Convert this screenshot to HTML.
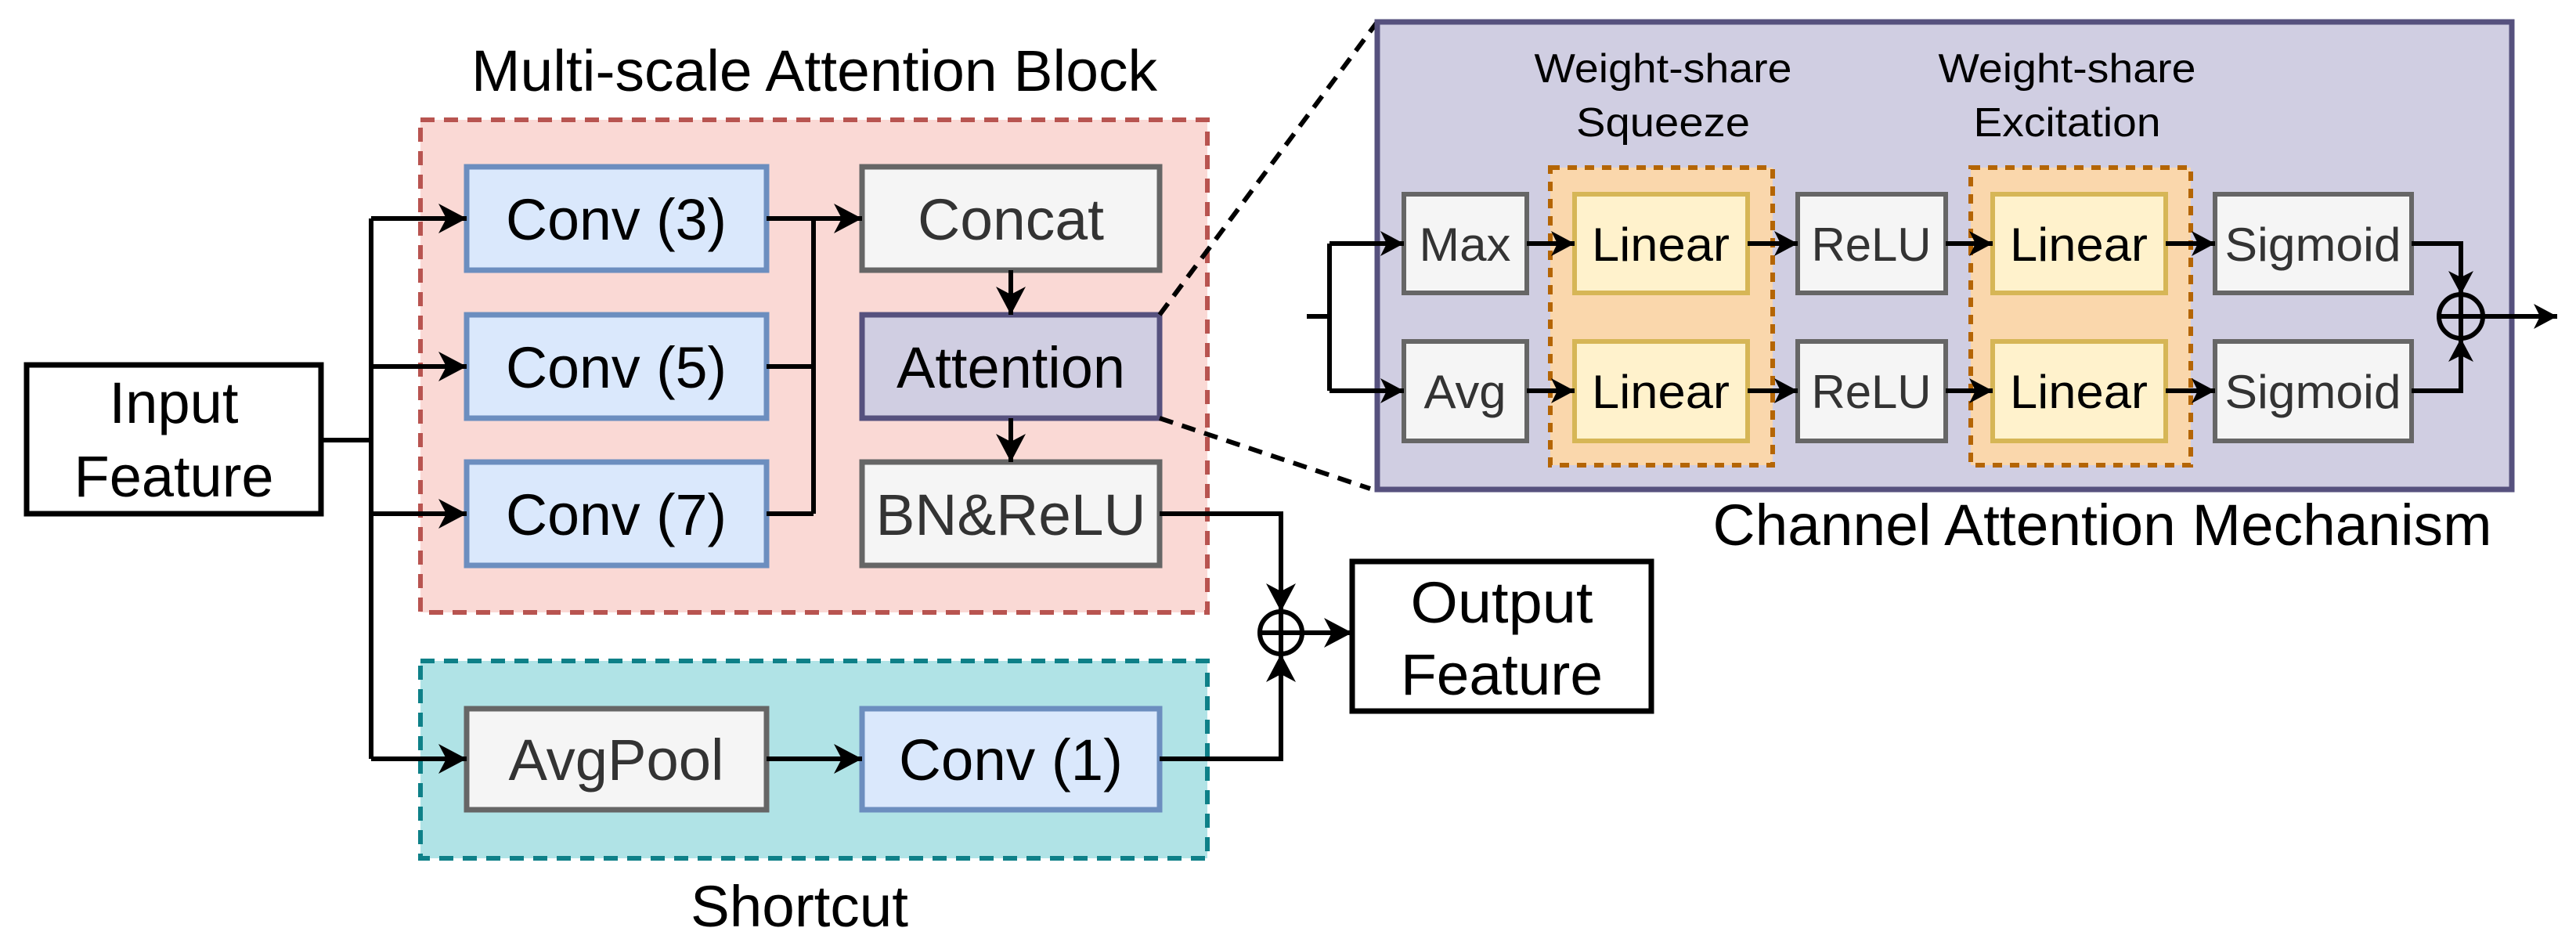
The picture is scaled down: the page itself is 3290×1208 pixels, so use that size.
<!DOCTYPE html>
<html><head><meta charset="utf-8"><style>
html,body{margin:0;padding:0;background:#fff;}
svg{display:block;}
svg text{font-family:"Liberation Sans",Arial,Helvetica,sans-serif !important;text-anchor:middle;}
</style></head><body>
<svg width="3290" height="1208" viewBox="0 0 3290 1208" xmlns="http://www.w3.org/2000/svg" font-family="Liberation Sans, Arial, sans-serif">
<defs>
<marker id="a" markerUnits="userSpaceOnUse" markerWidth="40" markerHeight="40" refX="36" refY="19" orient="auto"><path d="M36,19 L0,0 L10,19 L0,38 Z" fill="#000"/></marker>
<marker id="b" markerUnits="userSpaceOnUse" markerWidth="34" markerHeight="34" refX="30" refY="16" orient="auto"><path d="M30,16 L0,0 L8,16 L0,32 Z" fill="#000"/></marker>
</defs>

<text x="1040" y="116" font-size="74" textLength="876" lengthAdjust="spacingAndGlyphs">Multi-scale Attention Block</text>
<text x="1021" y="1183" font-size="74" textLength="278" lengthAdjust="spacingAndGlyphs">Shortcut</text>

<rect x="537" y="153" width="1005" height="629" fill="#fad9d5" stroke="#b85450" stroke-width="6" stroke-dasharray="18 12"/>
<rect x="537" y="844" width="1005" height="252" fill="#b0e3e6" stroke="#0e8088" stroke-width="6" stroke-dasharray="18 12"/>

<rect x="34" y="466" width="376" height="190" fill="#fff" stroke="#000" stroke-width="7"/>
<text x="222" y="540" font-size="74" textLength="165" lengthAdjust="spacingAndGlyphs">Input</text>
<text x="222" y="634" font-size="74" textLength="255" lengthAdjust="spacingAndGlyphs">Feature</text>

<g stroke="#6c8ebf" stroke-width="7" fill="#dae8fc">
<rect x="596" y="213" width="383" height="132"/>
<rect x="596" y="402" width="383" height="132"/>
<rect x="596" y="590" width="383" height="132"/>
<rect x="1101" y="905" width="380" height="129"/>
</g>
<g stroke="#666" stroke-width="7" fill="#f5f5f5">
<rect x="1101" y="213" width="380" height="132"/>
<rect x="1101" y="590" width="380" height="132"/>
<rect x="596" y="905" width="383" height="129"/>
</g>
<rect x="1101" y="402" width="380" height="132" fill="#d0cee2" stroke="#56517e" stroke-width="7"/>

<g font-size="74">
<text x="787" y="306" textLength="282" lengthAdjust="spacingAndGlyphs">Conv (3)</text>
<text x="787" y="495" textLength="282" lengthAdjust="spacingAndGlyphs">Conv (5)</text>
<text x="787" y="683" textLength="282" lengthAdjust="spacingAndGlyphs">Conv (7)</text>
<text x="1291" y="306" fill="#333" textLength="238" lengthAdjust="spacingAndGlyphs">Concat</text>
<text x="1291" y="495" textLength="292" lengthAdjust="spacingAndGlyphs">Attention</text>
<text x="1291" y="683" fill="#333" textLength="345" lengthAdjust="spacingAndGlyphs">BN&amp;ReLU</text>
<text x="787" y="996" fill="#333" textLength="275" lengthAdjust="spacingAndGlyphs">AvgPool</text>
<text x="1291" y="996" textLength="286" lengthAdjust="spacingAndGlyphs">Conv (1)</text>
</g>

<g stroke="#000" stroke-width="6" fill="none">
<path d="M410,562 H474"/>
<path d="M474,279 V969"/>
<path d="M474,279 H596" marker-end="url(#a)"/>
<path d="M474,468 H596" marker-end="url(#a)"/>
<path d="M474,656 H596" marker-end="url(#a)"/>
<path d="M474,969 H596" marker-end="url(#a)"/>
<path d="M979,279 H1101" marker-end="url(#a)"/>
<path d="M979,468 H1039"/>
<path d="M979,656 H1039"/>
<path d="M1039,279 V656"/>
<path d="M1291,345 V402" marker-end="url(#a)"/>
<path d="M1291,534 V590" marker-end="url(#a)"/>
<path d="M979,969 H1101" marker-end="url(#a)"/>
<path d="M1481,656 H1636 V781" marker-end="url(#a)"/>
<path d="M1481,969 H1636 V835" marker-end="url(#a)"/>
<path d="M1663,808 H1727" marker-end="url(#a)"/>
<circle cx="1636" cy="808" r="27"/>
<path d="M1609,808 H1663 M1636,781 V835"/>
</g>

<rect x="1727" y="717" width="382" height="191" fill="#fff" stroke="#000" stroke-width="7"/>
<text x="1918" y="795" font-size="74" textLength="233" lengthAdjust="spacingAndGlyphs">Output</text>
<text x="1918" y="887" font-size="74" textLength="258" lengthAdjust="spacingAndGlyphs">Feature</text>

<g stroke="#000" stroke-width="6" stroke-dasharray="18 12" fill="none">
<path d="M1481,402 L1759,28"/>
<path d="M1481,534 L1750,624"/>
</g>

<rect x="1759" y="28" width="1449" height="597" fill="#d0cee2" stroke="#56517e" stroke-width="7"/>
<g font-size="52">
<text x="2124" y="105" textLength="329" lengthAdjust="spacingAndGlyphs">Weight-share</text>
<text x="2124" y="174" textLength="222" lengthAdjust="spacingAndGlyphs">Squeeze</text>
<text x="2640" y="105" textLength="329" lengthAdjust="spacingAndGlyphs">Weight-share</text>
<text x="2640" y="174" textLength="239" lengthAdjust="spacingAndGlyphs">Excitation</text>
</g>
<g fill="#fad7ac" stroke="#b46504" stroke-width="6" stroke-dasharray="12 10">
<rect x="1980" y="214" width="284" height="380"/>
<rect x="2517" y="214" width="281" height="380"/>
</g>
<g fill="#f5f5f5" stroke="#666" stroke-width="6">
<rect x="1793" y="248" width="157" height="126"/>
<rect x="1793" y="436" width="157" height="127"/>
<rect x="2296" y="248" width="189" height="126"/>
<rect x="2296" y="436" width="189" height="127"/>
<rect x="2829" y="248" width="251" height="126"/>
<rect x="2829" y="436" width="251" height="127"/>
</g>
<g fill="#fff2cc" stroke="#d6b656" stroke-width="6">
<rect x="2011" y="248" width="221" height="126"/>
<rect x="2011" y="436" width="221" height="127"/>
<rect x="2545" y="248" width="221" height="126"/>
<rect x="2545" y="436" width="221" height="127"/>
</g>
<g font-size="60">
<text x="1871" y="333" fill="#333" textLength="117" lengthAdjust="spacingAndGlyphs">Max</text>
<text x="1871" y="521" fill="#333" textLength="105" lengthAdjust="spacingAndGlyphs">Avg</text>
<text x="2121" y="333" textLength="176" lengthAdjust="spacingAndGlyphs">Linear</text>
<text x="2121" y="521" textLength="176" lengthAdjust="spacingAndGlyphs">Linear</text>
<text x="2390" y="333" fill="#333" textLength="153" lengthAdjust="spacingAndGlyphs">ReLU</text>
<text x="2390" y="521" fill="#333" textLength="153" lengthAdjust="spacingAndGlyphs">ReLU</text>
<text x="2655" y="333" textLength="176" lengthAdjust="spacingAndGlyphs">Linear</text>
<text x="2655" y="521" textLength="176" lengthAdjust="spacingAndGlyphs">Linear</text>
<text x="2954" y="333" fill="#333" textLength="225" lengthAdjust="spacingAndGlyphs">Sigmoid</text>
<text x="2954" y="521" fill="#333" textLength="225" lengthAdjust="spacingAndGlyphs">Sigmoid</text>
</g>
<g stroke="#000" stroke-width="6" fill="none">
<path d="M1669,404 H1698"/>
<path d="M1698,311 V499"/>
<path d="M1698,311 H1793" marker-end="url(#b)"/>
<path d="M1698,499 H1793" marker-end="url(#b)"/>
<path d="M1950,311 H2011" marker-end="url(#b)"/>
<path d="M1950,499 H2011" marker-end="url(#b)"/>
<path d="M2232,311 H2296" marker-end="url(#b)"/>
<path d="M2232,499 H2296" marker-end="url(#b)"/>
<path d="M2485,311 H2545" marker-end="url(#b)"/>
<path d="M2485,499 H2545" marker-end="url(#b)"/>
<path d="M2766,311 H2829" marker-end="url(#b)"/>
<path d="M2766,499 H2829" marker-end="url(#b)"/>
<path d="M3080,311 H3143 V376" marker-end="url(#b)"/>
<path d="M3080,499 H3143 V432" marker-end="url(#b)"/>
<path d="M3171,404 H3266" marker-end="url(#b)"/>
<circle cx="3143" cy="404" r="28"/>
<path d="M3115,404 H3171 M3143,376 V432"/>
</g>
<text x="2685" y="696" font-size="74" textLength="995" lengthAdjust="spacingAndGlyphs">Channel Attention Mechanism</text>
</svg>
</body></html>
